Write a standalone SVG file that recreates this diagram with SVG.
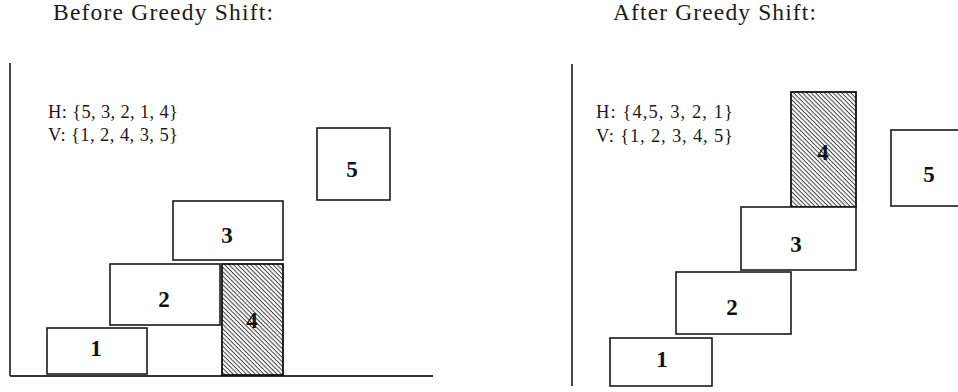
<svg xmlns="http://www.w3.org/2000/svg" width="958" height="392" viewBox="0 0 958 392">
  <style>
    .title { font-family: "Liberation Serif", "Times New Roman", serif; font-size: 23.5px; fill: #1a1a1a; }
    .seq { font-family: "Liberation Serif", "Times New Roman", serif; font-size: 18.5px; fill: #1a1a1a; }
    .axis { stroke: #333; stroke-width: 1.8; fill: none; }
    .box { fill: #fff; stroke: #1a1a1a; stroke-width: 1.6; }
    .hatched { fill: url(#hatch); stroke: #111; stroke-width: 1.8; }
    .num { font-family: "Liberation Serif", "Times New Roman", serif; font-size: 23px; font-weight: bold; fill: #111; text-anchor: middle; }
  </style>
  <defs>
    <!-- back-slash hatching for the shifted module -->
    <pattern id="hatch" patternUnits="userSpaceOnUse" width="3.1" height="3.1" patternTransform="rotate(45)">
      <rect width="3.1" height="3.1" fill="#fff"/>
      <line x1="0" y1="0.5" x2="3.1" y2="0.5" stroke="#222" stroke-width="0.85"/>
    </pattern>
  </defs>
  <rect width="958" height="392" fill="#fff"/>

  <!-- left panel: placement before the shift -->
  <g id="before">
    <text class="title" x="53" y="20" textLength="220" lengthAdjust="spacing">Before Greedy Shift:</text>
    <g id="before-axes">
      <line class="axis" x1="10" y1="63" x2="10" y2="376"/>
      <line class="axis" x1="10" y1="376" x2="433" y2="376"/>
    </g>
    <text class="seq" x="48" y="118" textLength="130" lengthAdjust="spacing">H: {5, 3, 2, 1, 4}</text>
    <text class="seq" x="48" y="141" textLength="130" lengthAdjust="spacing">V: {1, 2, 4, 3, 5}</text>
    <g id="before-m5"><rect class="box" x="317" y="128" width="73" height="72"/><text class="num" x="352" y="177">5</text></g>
    <g id="before-m3"><rect class="box" x="173" y="201" width="110" height="59"/><text class="num" x="227" y="243">3</text></g>
    <g id="before-m2"><rect class="box" x="110" y="264" width="110" height="61"/><text class="num" x="164" y="307">2</text></g>
    <g id="before-m1"><rect class="box" x="47" y="328" width="100" height="46"/><text class="num" x="96" y="356">1</text></g>
    <g id="before-m4"><rect class="hatched" x="222" y="264" width="61" height="111"/><text class="num" x="252" y="328">4</text></g>
  </g>

  <!-- right panel: placement after the shift -->
  <g id="after">
    <text class="title" x="613" y="20" textLength="203" lengthAdjust="spacing">After Greedy Shift:</text>
    <g id="after-axes">
      <line class="axis" x1="572" y1="64" x2="572" y2="386"/>
    </g>
    <text class="seq" x="596" y="118" textLength="137" lengthAdjust="spacing">H: {4,5, 3, 2, 1}</text>
    <text class="seq" x="596" y="142" textLength="137" lengthAdjust="spacing">V: {1, 2, 3, 4, 5}</text>
    <g id="after-m4"><rect class="hatched" x="791" y="92" width="65" height="115"/><text class="num" x="823" y="160">4</text></g>
    <g id="after-m5"><rect class="box" x="891" y="130" width="80" height="76"/><text class="num" x="929" y="182">5</text></g>
    <g id="after-m3"><rect class="box" x="741" y="207" width="115" height="63"/><text class="num" x="796" y="252">3</text></g>
    <g id="after-m2"><rect class="box" x="676" y="272" width="115" height="62"/><text class="num" x="732" y="315">2</text></g>
    <g id="after-m1"><rect class="box" x="610" y="338" width="102" height="48"/><text class="num" x="662" y="367">1</text></g>
  </g>
</svg>
